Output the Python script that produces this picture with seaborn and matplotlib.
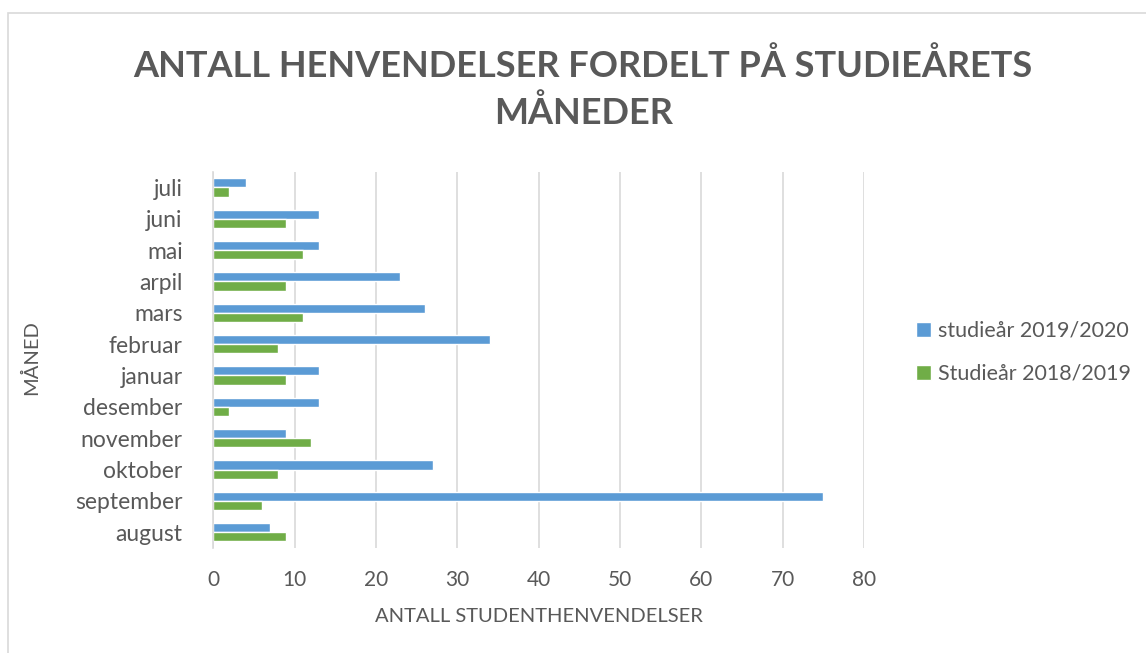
import matplotlib
matplotlib.use("Agg")
import matplotlib.pyplot as plt
import seaborn as sns
import pandas as pd
from matplotlib.patches import Rectangle

months = ["juli", "juni", "mai", "arpil", "mars", "februar", "januar",
          "desember", "november", "oktober", "september", "august"]
year_2019_2020 = [4, 13, 13, 23, 26, 34, 13, 13, 9, 27, 75, 7]
year_2018_2019 = [2, 9, 11, 9, 11, 8, 9, 2, 12, 8, 6, 9]
series_names = ["studieår 2019/2020", "Studieår 2018/2019"]
x_ticks = [0, 10, 20, 30, 40, 50, 60, 70, 80]

df = pd.DataFrame({
    "month": months * 2,
    "count": year_2019_2020 + year_2018_2019,
    "series": [series_names[0]] * len(months) + [series_names[1]] * len(months),
})

sns.set_style("white")
plt.rcParams['font.family'] = ['Lato', 'DejaVu Sans']
text_color = "#595959"

fig = plt.figure(figsize=(11.46, 6.53), dpi=100)
ax = fig.add_axes([0.186, 0.161, 0.568, 0.576])

sns.barplot(data=df, x="count", y="month", hue="series", order=months,
            hue_order=series_names, palette=["#5B9BD5", "#70AD47"],
            width=0.58, orient="h", ax=ax, saturation=1, legend=True)

ax.set_xlim(0, 80)
ax.set_xticks(x_ticks)
ax.xaxis.grid(True, color="#D9D9D9", linewidth=1.2)
ax.set_axisbelow(True)
for s in ["top", "right", "bottom"]:
    ax.spines[s].set_visible(False)
ax.spines["left"].set_color("#D9D9D9")
ax.spines["left"].set_linewidth(1.2)
ax.tick_params(axis="x", length=0, pad=16, labelsize=15, labelcolor=text_color)
ax.tick_params(axis="y", length=0, pad=22, labelsize=16.5, labelcolor=text_color)

ax.set_xlabel("ANTALL STUDENTHENVENDELSER", fontsize=14.5, color=text_color, labelpad=13)
ax.set_ylabel("")
fig.text(0.027, 0.453, "MÅNED", rotation=90, fontsize=14.5, color=text_color,
         ha="center", va="center")

fig.text(0.509, 0.864, "ANTALL HENVENDELSER FORDELT PÅ STUDIEÅRETS\nMÅNEDER",
         ha="center", va="center", fontsize=26, fontweight="bold",
         color=text_color, linespacing=1.42)

handles, labels = ax.get_legend_handles_labels()
ax.legend(handles, labels, loc="center left", bbox_to_anchor=(1.05, 0.52),
          frameon=False, fontsize=15.5, labelcolor=text_color,
          handlelength=0.7, handleheight=0.7, handletextpad=0.3, labelspacing=1.05)

fig.patches.append(Rectangle((0.007, -0.01), 1.0, 0.99, transform=fig.transFigure,
                             fill=False, edgecolor="#D9D9D9", linewidth=1.2))

fig.savefig("out.png", dpi=100)
plt.close(fig)
